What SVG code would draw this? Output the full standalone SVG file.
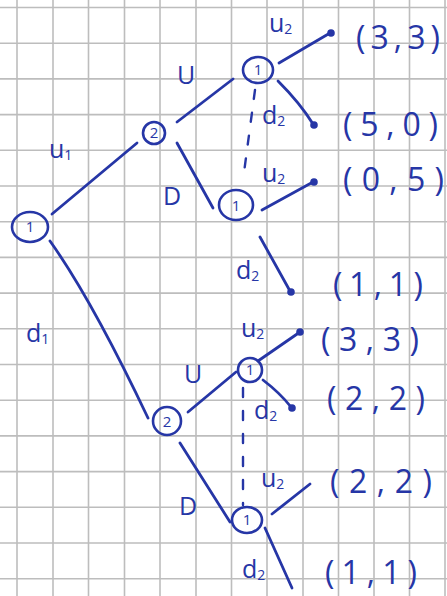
<svg xmlns="http://www.w3.org/2000/svg" width="447" height="596" viewBox="0 0 447 596">
<defs>
<style>
.grid line{stroke:#bdbdbd;stroke-width:1.6}
.ink{stroke:#2636a6;stroke-width:2.8;fill:none;stroke-linecap:round}
.dash{stroke:#2636a6;stroke-width:2.4;fill:none;stroke-dasharray:9 14;stroke-linecap:round}
.node{stroke:#2636a6;stroke-width:2.6;fill:none}
.dot{fill:#2636a6}
text{font-family:"Open Sans","Liberation Sans",sans-serif;fill:#2636a6}
.nl{font-size:15px;text-anchor:middle}
.el{font-size:25px}
.sub{font-size:14px}
.pay{font-size:32px}
</style>
</defs>
<rect width="447" height="596" fill="#ffffff"/>
<g class="grid">
<line x1="17" y1="0" x2="17" y2="596"/><line x1="53" y1="0" x2="53" y2="596"/><line x1="88.5" y1="0" x2="88.5" y2="596"/><line x1="124.5" y1="0" x2="124.5" y2="596"/><line x1="160" y1="0" x2="160" y2="596"/><line x1="196" y1="0" x2="196" y2="596"/><line x1="231.5" y1="0" x2="231.5" y2="596"/><line x1="267" y1="0" x2="267" y2="596"/><line x1="303" y1="0" x2="303" y2="596"/><line x1="338.5" y1="0" x2="338.5" y2="596"/><line x1="374" y1="0" x2="374" y2="596"/><line x1="409.5" y1="0" x2="409.5" y2="596"/><line x1="445" y1="0" x2="445" y2="596"/>
<line x1="0" y1="7.5" x2="447" y2="7.5"/><line x1="0" y1="43.2" x2="447" y2="43.2"/><line x1="0" y1="78.9" x2="447" y2="78.9"/><line x1="0" y1="114.6" x2="447" y2="114.6"/><line x1="0" y1="150.3" x2="447" y2="150.3"/><line x1="0" y1="186" x2="447" y2="186"/><line x1="0" y1="221.7" x2="447" y2="221.7"/><line x1="0" y1="257.4" x2="447" y2="257.4"/><line x1="0" y1="293.1" x2="447" y2="293.1"/><line x1="0" y1="328.8" x2="447" y2="328.8"/><line x1="0" y1="364.5" x2="447" y2="364.5"/><line x1="0" y1="400.2" x2="447" y2="400.2"/><line x1="0" y1="435.9" x2="447" y2="435.9"/><line x1="0" y1="471.6" x2="447" y2="471.6"/><line x1="0" y1="507.3" x2="447" y2="507.3"/><line x1="0" y1="543" x2="447" y2="543"/><line x1="0" y1="578.7" x2="447" y2="578.7"/>
</g>
<g id="connectors">
<path class="ink" d="M52,214 L137,143"/>
<path class="ink" d="M50,241 Q92,300 148,418"/>
<path class="ink" d="M177,122 L233,79"/>
<path class="ink" d="M177,143 L213,208"/>
<path class="ink" d="M279,63 L330,33"/>
<path class="ink" d="M278,81 Q300,103 313,124"/>
<path class="ink" d="M262,210 L313,182"/>
<path class="ink" d="M260,237 L290,291"/>
<path class="ink" d="M188,412 L236,372"/>
<path class="ink" d="M180,443 L230,522"/>
<path class="ink" d="M258,361 L300,332"/>
<path class="ink" d="M263,380 Q280,393 291,407"/>
<path class="ink" d="M272,514 L310,484"/>
<path class="ink" d="M265,528 L292,588"/>
<path class="dash" d="M255,90 L243,180"/>
<path class="dash" d="M243,388 L243,505"/>
</g>
<g id="edge-labels">
<text class="el" x="49" y="158">u<tspan class="sub" dy="2">1</tspan></text>
<text class="el" x="177" y="84">U</text>
<text class="el" x="163" y="205">D</text>
<text class="el" x="26" y="342">d<tspan class="sub" dy="2">1</tspan></text>
<text class="el" x="269" y="32">u<tspan class="sub" dy="2">2</tspan></text>
<text class="el" x="262" y="124">d<tspan class="sub" dy="2">2</tspan></text>
<text class="el" x="262" y="182">u<tspan class="sub" dy="2">2</tspan></text>
<text class="el" x="236" y="279">d<tspan class="sub" dy="2">2</tspan></text>
<text class="el" x="241" y="337">u<tspan class="sub" dy="2">2</tspan></text>
<text class="el" x="184" y="383">U</text>
<text class="el" x="254" y="419">d<tspan class="sub" dy="2">2</tspan></text>
<text class="el" x="179" y="515">D</text>
<text class="el" x="261" y="487">u<tspan class="sub" dy="2">2</tspan></text>
<text class="el" x="242" y="578">d<tspan class="sub" dy="2">2</tspan></text>
</g>
<g id="n-root"><ellipse class="node" cx="30" cy="227" rx="18" ry="15"/><text class="nl" x="30" y="232">1</text></g>
<g id="n-p2-upper"><circle class="node" cx="154" cy="133" r="11"/><text class="nl" x="154" y="138">2</text></g>
<g id="n-p1-a"><ellipse class="node" cx="258" cy="70" rx="15" ry="13"/><text class="nl" x="258" y="75">1</text></g>
<g id="n-p1-b"><ellipse class="node" cx="236" cy="205" rx="17" ry="15"/><text class="nl" x="236" y="211">1</text></g>
<g id="n-p2-lower"><circle class="node" cx="167" cy="421" r="14"/><text class="nl" x="167" y="427">2</text></g>
<g id="n-p1-c"><circle class="node" cx="250" cy="370" r="12"/><text class="nl" x="250" y="375">1</text></g>
<g id="n-p1-d"><ellipse class="node" cx="247" cy="520" rx="15" ry="13"/><text class="nl" x="247" y="525">1</text></g>
<g id="t1"><circle class="dot" cx="331" cy="33" r="3.8"/><text class="pay" x="356" y="49" textLength="84" lengthAdjust="spacing">(3,3)</text></g>
<g id="t2"><circle class="dot" cx="314" cy="125" r="3.8"/><text class="pay" x="343" y="136" textLength="95" lengthAdjust="spacing">(5,0)</text></g>
<g id="t3"><circle class="dot" cx="314" cy="182" r="3.8"/><text class="pay" x="343" y="191" textLength="101" lengthAdjust="spacing">(0,5)</text></g>
<g id="t4"><circle class="dot" cx="291" cy="292" r="3.8"/><text class="pay" x="333" y="296" textLength="90" lengthAdjust="spacing">(1,1)</text></g>
<g id="t5"><circle class="dot" cx="300" cy="332" r="3.8"/><text class="pay" x="321" y="351" textLength="98" lengthAdjust="spacing">(3,3)</text></g>
<g id="t6"><circle class="dot" cx="292" cy="408" r="3.8"/><text class="pay" x="327" y="410" textLength="98" lengthAdjust="spacing">(2,2)</text></g>
<g id="t7"><text class="pay" x="330" y="493" textLength="102" lengthAdjust="spacing">(2,2)</text></g>
<g id="t8"><text class="pay" x="325" y="584" textLength="92" lengthAdjust="spacing">(1,1)</text></g>
</svg>
